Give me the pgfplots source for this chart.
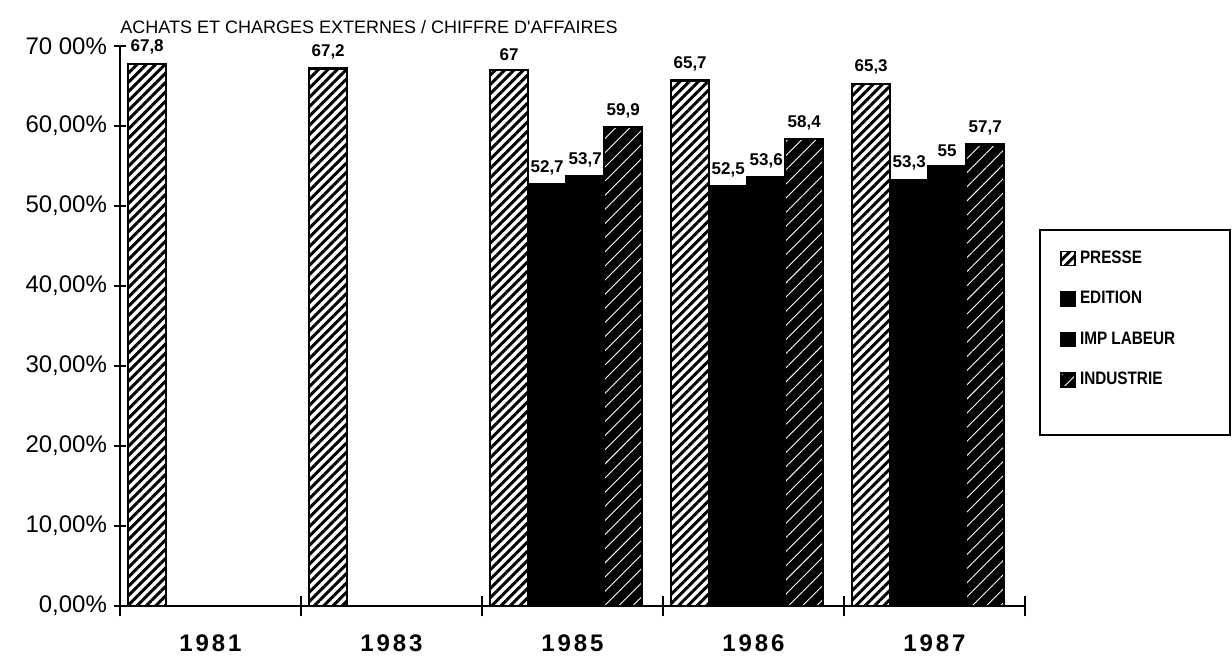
\documentclass[border=0pt]{standalone}
\usepackage{fontspec}
\setmainfont{Liberation Sans}
\newfontfamily\titlefont{Liberation Sans}
\newfontfamily\legfont[FakeStretch=0.85]{Liberation Sans}
\newfontfamily\yearfont[LetterSpace=12]{Liberation Sans}
\usepackage{pgfplots}
\pgfplotsset{compat=1.18}
\usetikzlibrary{patterns.meta,calc}

\pgfplotsset{
  presse/.style={ybar, bar shift=0pt, bar width=0.21, draw=black, line width=1.1pt,
    fill=white, postaction={pattern={Lines[angle=45,distance=3.3pt,line width=1.5pt]}, pattern color=black}},
  plein/.style={ybar, bar shift=0pt, bar width=0.21, draw=black, line width=1.1pt, fill=black},
  industrie/.style={ybar, bar shift=0pt, bar width=0.21, draw=black, line width=1.1pt,
    fill=black, postaction={pattern={Lines[angle=45,distance=5pt,line width=0.45pt]}, pattern color=white}},
  valeurs/.style={nodes near coords={\pgfmathprintnumber[use comma,fixed,precision=1]{\pgfplotspointmeta}},
    every node near coord/.append style={font=\bfseries\fontsize{8.5}{9}\selectfont, black, inner sep=1pt, yshift=3pt}},
}

\begin{document}
\begin{tikzpicture}
\begin{axis}[
  scale only axis, width=452.5pt, height=280pt,
  xmin=0, xmax=5, ymin=0, ymax=70,
  clip=false,
  axis x line=bottom, axis y line=left,
  axis line style={-, line width=1.1pt},
  /pgf/number format/assume math mode=true,
  xtick={0.5,1.5,2.5,3.5,4.5},
  xticklabels={1981,1983,1985,1986,1987},
  major x tick style={draw=none},
  minor xtick={0,1,2,3,4,5},
  minor tick length=10pt,
  major tick length=6pt,
  tick align=center,
  tick style={line width=1pt, black},
  ytick={0,10,20,30,40,50,60,70},
  yticklabels={{0,00\%},{10,00\%},{20,00\%},{30,00\%},{40,00\%},{50,00\%},{60,00\%},{70 00\%}},
  xticklabel style={font=\yearfont\bfseries\fontsize{12}{12}\selectfont, yshift=-8pt},
  yticklabel style={font=\fontsize{12}{12}\selectfont},
  legend cell align=left,
  legend image code/.code={\draw[#1, line width=0.8pt] (0pt,-3.5pt) rectangle (7pt,3.5pt);},
  legend style={draw=none, fill=none, at={(axis description cs:1.0166,0.671)}, anchor=north west,
    font=\legfont\bfseries\fontsize{9}{9}\selectfont, inner xsep=10pt, inner ysep=8pt,
    row sep=8.5pt},
]
% PRESSE
\addplot[presse, valeurs] coordinates {(0.15,67.8) (1.15,67.2) (2.15,67) (3.15,65.7) (4.15,65.3)};
% EDITION
\addplot[plein, valeurs] coordinates {(2.36,52.7) (3.36,52.5) (4.36,53.3)};
% IMP LABEUR
\addplot[plein, valeurs] coordinates {(2.57,53.7) (3.57,53.6) (4.57,55)};
% INDUSTRIE
\addplot[industrie, valeurs] coordinates {(2.78,59.9) (3.78,58.4) (4.78,57.7)};
\legend{PRESSE, EDITION, IMP LABEUR, INDUSTRIE}

\draw[line width=1pt] (axis description cs:1.0166,0.671) rectangle (axis description cs:1.2265,0.305);
\node[anchor=base west, inner sep=0pt, font=\titlefont\fontsize{9}{9}\selectfont, yshift=6.5pt]
  at (rel axis cs:0,1) {ACHATS ET CHARGES EXTERNES / CHIFFRE D'AFFAIRES};
\coordinate (O) at (rel axis cs:0,0);
\end{axis}
\useasboundingbox ($(O)+(-60pt,-25pt)$) rectangle ($(O)+(556pt,303pt)$);
\end{tikzpicture}
\end{document}
